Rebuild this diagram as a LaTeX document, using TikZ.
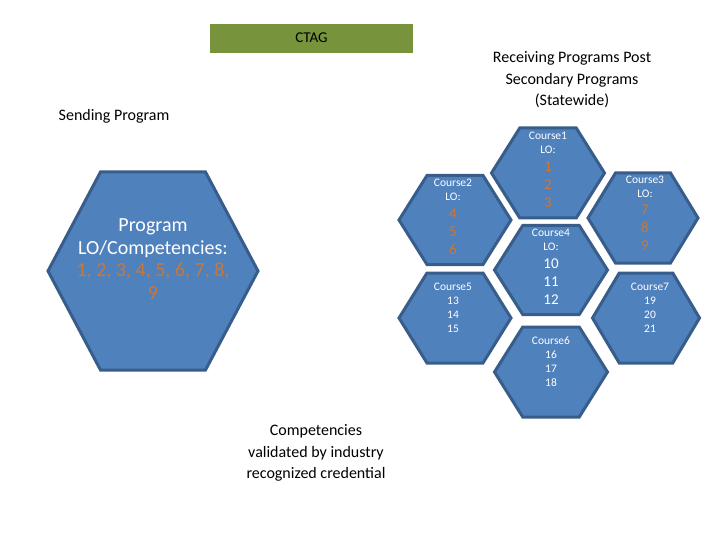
\documentclass[tikz,border=0pt]{standalone}
\usepackage{fontspec}
\setmainfont{Carlito}
\definecolor{hexfill}{HTML}{4F81BD}
\definecolor{hexline}{HTML}{385D8A}
\definecolor{orng}{HTML}{C8783A}
\definecolor{ctag}{HTML}{77933C}
\tikzset{
  hexbox/.style={fill=hexfill,draw=hexline,line width=3pt,line join=miter},
  htxt/.style={text=white,align=center,font=\fontsize{11.5}{14}\selectfont,inner sep=0pt},
  lbl/.style={align=center,font=\fontsize{16}{21.5}\selectfont,inner sep=0pt}
}
\newcommand\hexat[5]{% name, cx, cy, w, h
  \path[hexbox] (#2-#4/2,#3) -- (#2-#4/4,#3-#5/2) -- (#2+#4/4,#3-#5/2) -- (#2+#4/2,#3) -- (#2+#4/4,#3+#5/2) -- (#2-#4/4,#3+#5/2) -- cycle;
  \coordinate (#1) at (#2,#3);}
\newcommand\bn[1]{{\fontsize{15}{19}\selectfont #1}}
\begin{document}
\begin{tikzpicture}[x=1pt,y=-1pt]
\useasboundingbox (0,0) rectangle (720,540);
\node[fill=ctag,minimum width=203pt,minimum height=29pt,inner sep=0pt] (ctag) at (311.5,38.5) {};
\node[inner sep=0pt,font=\fontsize{15}{15}\selectfont] (ctagt) at (311.5,38) {CTAG};
\node[lbl] (recv) at (572,80) {Receiving Programs Post\\Secondary Programs\\(Statewide)};
\node[lbl] (send) at (114,116) {Sending Program};
\node[lbl] (comp) at (316,453) {Competencies\\validated by industry\\recognized credential};
\hexat{big}{153}{271}{210}{198}
\node[align=center,text=white,inner sep=0pt,font=\fontsize{20}{22.7}\selectfont] (bigt) at (153,259) {Program\\LO/Competencies:\\\textcolor{orng}{1, 2, 3, 4, 5, 6, 7, 8,}\\\textcolor{orng}{9}};
\hexat{c1}{548}{173}{113}{90}
\hexat{c2}{455}{220}{112}{89}
\hexat{c3}{643}{218}{110}{90}
\hexat{c4}{551}{270}{113}{89}
\hexat{c5}{455}{318}{112}{90}
\hexat{c7}{646}{318}{107}{90}
\hexat{c6}{551}{372}{113}{90}
\node[htxt,anchor=north] (t1) at (548,132) {Course1\\LO:\\[4pt]\bn{\textcolor{orng}{1}}\\[4pt]\bn{\textcolor{orng}{2}}\\[4pt]\bn{\textcolor{orng}{3}}};
\node[htxt,anchor=north] (t2) at (453,179) {Course2\\LO:\\[4pt]\bn{\textcolor{orng}{4}}\\[4pt]\bn{\textcolor{orng}{5}}\\[4pt]\bn{\textcolor{orng}{6}}};
\node[htxt,anchor=north] (t3) at (645,176) {Course3\\LO:\\[3pt]\bn{\textcolor{orng}{7}}\\[4pt]\bn{\textcolor{orng}{8}}\\[4pt]\bn{\textcolor{orng}{9}}};
\node[htxt,anchor=north] (t4) at (551,229) {Course4\\LO:\\[4pt]\bn{10}\\[4pt]\bn{11}\\[4pt]\bn{12}};
\node[htxt,anchor=north] (t5) at (453,283) {Course5\\13\\14\\15};
\node[htxt,anchor=north] (t7) at (650,283) {Course7\\19\\20\\21};
\node[htxt,anchor=north] (t6) at (551,337) {Course6\\16\\17\\18};
\end{tikzpicture}
\end{document}
